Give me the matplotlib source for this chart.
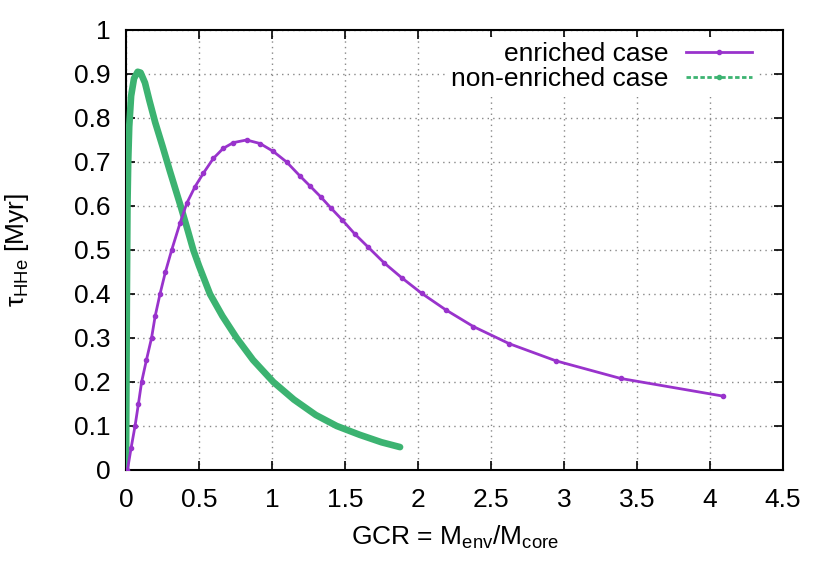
import matplotlib
matplotlib.use('Agg')
import matplotlib.pyplot as plt
from matplotlib.lines import Line2D

# enriched case
gcr_enr = [0.01, 0.035, 0.062, 0.085, 0.107, 0.14, 0.175, 0.2, 0.233, 0.27, 0.313,
           0.37, 0.416, 0.473, 0.529, 0.598, 0.666, 0.735, 0.826, 0.918, 1.009,
           1.10, 1.192, 1.26, 1.333, 1.402, 1.482, 1.568, 1.66, 1.767, 1.888,
           2.025, 2.19, 2.379, 2.625, 2.945, 3.388, 4.087]
tau_enr = [0.0, 0.05, 0.1, 0.15, 0.2, 0.25, 0.3, 0.35, 0.4, 0.45, 0.5,
           0.561, 0.606, 0.644, 0.674, 0.708, 0.731, 0.744, 0.75, 0.742, 0.724,
           0.70, 0.668, 0.6455, 0.621, 0.596, 0.568, 0.536, 0.506, 0.471, 0.437,
           0.4015, 0.364, 0.326, 0.287, 0.248, 0.208, 0.168]

# non-enriched case
gcr_non = [0.0, 0.003, 0.006, 0.01, 0.015, 0.022, 0.035, 0.055, 0.08, 0.1, 0.13,
           0.16, 0.2, 0.25, 0.3, 0.374, 0.42, 0.461, 0.5, 0.575, 0.66, 0.758,
           0.87, 1.009, 1.15, 1.3, 1.443, 1.6, 1.75, 1.877]
tau_non = [0.0, 0.2, 0.4, 0.6, 0.7, 0.78, 0.85, 0.89, 0.905, 0.903, 0.88,
           0.84, 0.79, 0.736, 0.68, 0.6, 0.548, 0.5, 0.464, 0.4, 0.35, 0.3,
           0.25, 0.2, 0.16, 0.125, 0.1, 0.08, 0.063, 0.052]

xticks = [0, 0.5, 1, 1.5, 2, 2.5, 3, 3.5, 4, 4.5]
xlabels = ['0', '0.5', '1', '1.5', '2', '2.5', '3', '3.5', '4', '4.5']
yticks = [0, 0.1, 0.2, 0.3, 0.4, 0.5, 0.6, 0.7, 0.8, 0.9, 1]
ylabels = ['0', '0.1', '0.2', '0.3', '0.4', '0.5', '0.6', '0.7', '0.8', '0.9', '1']

purple = '#9933cc'
green = '#3cb371'

plt.rcParams['font.family'] = ['Liberation Sans', 'DejaVu Sans']
plt.rcParams['font.size'] = 19
plt.rcParams['mathtext.fontset'] = 'custom'
plt.rcParams['mathtext.rm'] = 'Liberation Sans'
plt.rcParams['mathtext.it'] = 'Liberation Sans'

fig = plt.figure(figsize=(8.3, 5.8), dpi=100)
ax = fig.add_axes([0.1518, 0.1897, 0.7916, 0.7586])

ax.plot(gcr_non, tau_non, '-', color=green, lw=4.8, solid_capstyle='round',
        solid_joinstyle='round', zorder=3)
ax.plot(gcr_enr, tau_enr, '-', color=purple, lw=2.0, marker='o', markersize=3, zorder=4)

ax.set_xlim(0, 4.5)
ax.set_ylim(0, 1)
ax.set_xticks(xticks)
ax.set_xticklabels(xlabels)
ax.set_yticks(yticks)
ax.set_yticklabels(ylabels)
ax.tick_params(direction='in', length=6.5, width=1.2, top=True, right=True)
ax.tick_params(axis='x', pad=13)
ax.tick_params(axis='y', pad=11)
for s in ax.spines.values():
    s.set_linewidth(1.5)
ax.grid(True, color='#888888', linestyle=(0, (1, 3)), linewidth=1.0)
ax.set_axisbelow(True)

ax.set_xlabel(r'GCR = M$_{\rm env}$/M$_{\rm core}$')
ax.xaxis.set_label_coords(0.5, -0.122)
ax.set_ylabel(r'$\tau_{\rm HHe}$ [Myr]')
ax.yaxis.set_label_coords(-0.145, 0.5)

handles = [Line2D([], [], color=purple, lw=2.0, marker='o', markersize=3),
           Line2D([], [], color=green, lw=2.0, ls=(0, (1.6, 0.9)), marker='o', markersize=3)]
leg = ax.legend(handles, ['enriched case', 'non-enriched case'], loc='upper right',
                bbox_to_anchor=(0.9604, 0.984), numpoints=1,
                markerfirst=False, frameon=True, facecolor='white', edgecolor='none',
                framealpha=1, fancybox=False, handlelength=2.5, handletextpad=0.64,
                labelspacing=0.04, borderaxespad=0, borderpad=0.2)
leg.set_zorder(5)

fig.savefig('out.png', dpi=100)
